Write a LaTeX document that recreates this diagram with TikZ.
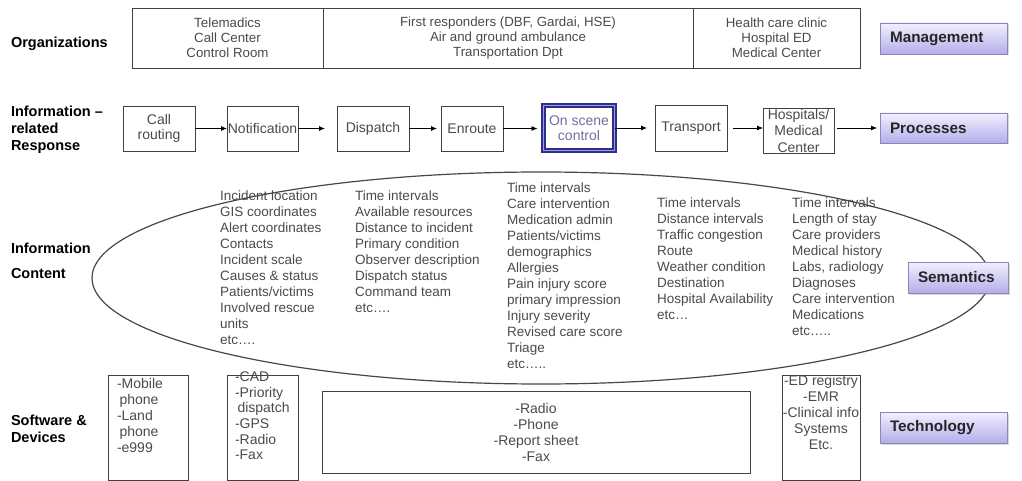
\documentclass[tikz,border=0pt]{standalone}
\usepackage{fontspec}
\setmainfont{Liberation Sans}
\usetikzlibrary{shapes.geometric,arrows.meta,shadows}
\definecolor{txt}{HTML}{4A4A4A}
\definecolor{navy}{HTML}{2E2E8E}
\definecolor{navymid}{HTML}{A0A0D8}
\definecolor{ontxt}{HTML}{6E6E9E}
\definecolor{tagtop}{HTML}{F2F0FF}
\definecolor{tagbot}{HTML}{B4AEEA}
\definecolor{tagline}{HTML}{8A86B8}
\begin{document}
\begin{tikzpicture}[x=1pt,y=-1pt,
 every node/.style={inner sep=0pt, outer sep=0pt},
 lbl/.style={font=\fontsize{14.5}{17}\selectfont\bfseries, align=left, anchor=west},
 cell/.style={draw=black!75, line width=0.8pt, text=txt, font=\fontsize{13.3}{15}\selectfont, align=center, minimum height=60pt},
 stepbox/.style={draw=black!75, line width=0.8pt, text=txt, font=\fontsize{14}{15.5}\selectfont, align=center, minimum height=45pt},
 devbox/.style={draw=black!75, line width=0.8pt},
 devtxt/.style={text=txt, font=\fontsize{14}{16}\selectfont},
 tag/.style={draw=tagline, line width=0.8pt, top color=tagtop, bottom color=tagbot, font=\fontsize{15.3}{18}\selectfont\bfseries, text=black!85, inner xsep=10pt, align=left, drop shadow={shadow xshift=1.5pt, shadow yshift=-1.5pt, opacity=0.3}},
 col/.style={anchor=north west, align=left, text=txt, font=\fontsize{13.5}{16}\selectfont},
 flow/.style={-{Latex[length=6pt,width=5pt]}, line width=0.8pt}
]
\useasboundingbox (0,0) rectangle (1022,481);

% Row 1: organizations
\node[lbl] (lorg) at (11,44) {Organizations};
\node[cell, minimum width=191pt] (o1) at (227.5,38) {Telemadics\\Call Center\\Control Room};
\node[cell, minimum width=370pt] (o2) at (508,38) {First responders (DBF, Gardai, HSE)\\Air and ground ambulance\\Transportation Dpt};
\node[cell, minimum width=167pt] (o3) at (776.5,38) {Health care clinic\\Hospital ED\\Medical Center};
\node[tag, minimum height=31pt, text width=107pt] (mgmt) at (943.5,38.5) {Management};

% Row 2: processes
\node[lbl] (lresp) at (11,130) {Information --\\related\\Response};
\node[stepbox, minimum width=72pt] (call) at (159,128.5) {Call\\routing};
\node[stepbox, minimum width=71pt] (notif) at (262.5,128.5) {Notification};
\node[stepbox, minimum width=72pt] (disp) at (373,128.5) {Dispatch};
\node[stepbox, minimum width=62pt] (enr) at (472,128.5) {Enroute};
\node[draw=navy, line width=1.6pt, double=navymid, double distance=1pt, text=ontxt,
      font=\fontsize{14}{15.5}\selectfont, align=center, minimum width=71pt, minimum height=45pt] (scene) at (579,128) {On scene\\control};
\node[stepbox, minimum width=72pt, minimum height=46pt] (trans) at (691,128) {Transport};
\node[stepbox, minimum width=71pt, font=\fontsize{14}{16.5}\selectfont] (hosp) at (798.5,130.5) {Hospitals/\\Medical\\Center};
\node[tag, minimum height=30pt, text width=107pt] (proc) at (943.5,128) {Processes};

\draw[flow] (call.east) -- (notif.west);
\draw[flow, shorten >=12pt] (notif.east) -- (disp.west);
\draw[flow, shorten >=4pt] (disp.east) -- (enr.west);
\draw[flow, shorten >=6pt] (enr.east) -- (enr.east -| scene.west);
\draw[flow, shorten >=8pt] (scene.east) -- (trans.west);
\draw[flow, shorten <=6pt] (trans.east) -- (trans.east -| hosp.west);
\draw[flow, shorten <=3pt, shorten >=3pt] (hosp.east |- proc.west) -- (proc.west);

% Row 3: information content
\node[lbl] (lcont) at (11,260.5) {Information\\[8pt]Content};
\node[ellipse, draw=black!72, line width=1.2pt, minimum width=898pt, minimum height=212pt] (ell) at (541,278) {};
\node[col] (c1) at (220,191) {Incident location\\GIS coordinates\\Alert coordinates\\Contacts\\Incident scale\\Causes \& status\\Patients/victims\\Involved rescue\\units\\etc\dots.};
\node[col] (c2) at (355,191) {Time intervals\\Available resources\\Distance to incident\\Primary condition\\Observer description\\Dispatch status\\Command team\\etc\dots.};
\node[col] (c3) at (507,183) {Time intervals\\Care intervention\\Medication admin\\Patients/victims\\demographics\\Allergies\\Pain injury score\\primary impression\\Injury severity\\Revised care score\\Triage\\etc\dots..};
\node[col] (c4) at (657,198) {Time intervals\\Distance intervals\\Traffic congestion\\Route\\Weather condition\\Destination\\Hospital Availability\\etc\dots};
\node[col] (c5) at (792,198) {Time intervals\\Length of stay\\Care providers\\Medical history\\Labs, radiology\\Diagnoses\\Care intervention\\Medications\\etc\dots..};
\node[tag, minimum height=31pt, text width=80pt] (sem) at (958,277.5) {Semantics};

% Row 4: technology
\node[lbl] (ldev) at (11,428.5) {Software \&\\Devices};
\node[devbox, minimum width=80pt, minimum height=105pt] (b1) at (148,427.5) {};
\node[devtxt, anchor=north west, align=left] (t1) at (117,378) {-Mobile\\\hspace*{2.5pt}phone\\-Land\\\hspace*{2.5pt}phone\\-e999};
\node[devbox, minimum width=71pt, minimum height=105pt] (b2) at (262.5,427.5) {};
\node[devtxt, anchor=north west, align=left, font=\fontsize{14}{15.6}\selectfont] (t2) at (235,372) {-CAD\\-Priority\\\hspace*{2.5pt}dispatch\\-GPS\\-Radio\\-Fax};
\node[devbox, devtxt, align=center, minimum width=428pt, minimum height=82pt] (b3) at (536,432) {-Radio\\-Phone\\-Report sheet\\-Fax};
\node[devbox, minimum width=78pt, minimum height=105pt] (b4) at (821,427.5) {};
\node[devtxt, anchor=north, align=center] (t4) at (821,375) {-ED registry\\-EMR\\-Clinical info\\Systems\\Etc.};
\node[tag, minimum height=31pt, text width=107pt] (tech) at (943.5,427.5) {Technology};
\end{tikzpicture}
\end{document}
